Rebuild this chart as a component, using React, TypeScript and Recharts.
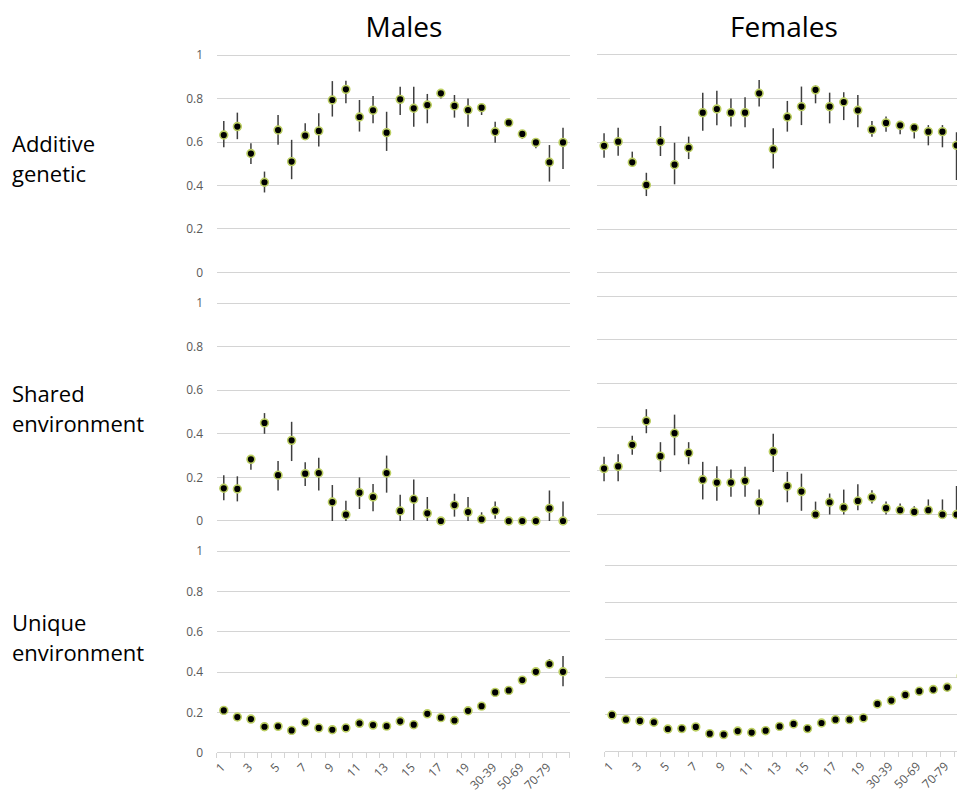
import React from 'react';
import { ComposedChart, Line, XAxis, YAxis, CartesianGrid, ErrorBar } from 'recharts';

const categories = [
  '1', '2', '3', '4', '5', '6', '7', '8', '9', '10', '11', '12', '13', '14', '15', '16', '17', '18', '19',
  '20-29', '30-39', '40-49', '50-69', '60-69', '70-79', '80+',
];
const yTicks = [0, 0.2, 0.4, 0.6, 0.8, 1];
const columnTitles = ['Males', 'Females'];
const rowTitles = [['Additive', 'genetic'], ['Shared', 'environment'], ['Unique', 'environment']];

// Males - additive genetic
const maleA = [0.632, 0.671, 0.547, 0.415, 0.655, 0.51, 0.629, 0.651, 0.793, 0.842, 0.715, 0.746, 0.643, 0.796, 0.755, 0.77, 0.824, 0.766, 0.747, 0.758, 0.647, 0.689, 0.637, 0.598, 0.507, 0.598];
const maleALo = [0.576, 0.613, 0.499, 0.368, 0.587, 0.429, 0.61, 0.579, 0.717, 0.778, 0.648, 0.686, 0.559, 0.724, 0.67, 0.686, 0.8, 0.712, 0.67, 0.724, 0.597, 0.675, 0.615, 0.571, 0.418, 0.476];
const maleAHi = [0.697, 0.735, 0.594, 0.464, 0.724, 0.61, 0.686, 0.732, 0.88, 0.882, 0.793, 0.812, 0.739, 0.854, 0.854, 0.821, 0.839, 0.816, 0.8, 0.77, 0.693, 0.7, 0.655, 0.61, 0.586, 0.666];

// Males - shared environment
const maleS = [0.15, 0.147, 0.283, 0.45, 0.21, 0.37, 0.217, 0.22, 0.087, 0.029, 0.13, 0.11, 0.22, 0.046, 0.1, 0.035, 0.0, 0.073, 0.041, 0.008, 0.047, 0.0, 0.0, 0.0, 0.058, 0.0];
const maleSLo = [0.095, 0.09, 0.235, 0.4, 0.14, 0.275, 0.16, 0.14, 0.0, 0.0, 0.055, 0.045, 0.13, 0.0, 0.005, 0.0, 0.0, 0.02, 0.0, 0.0, 0.01, 0.0, 0.0, 0.0, 0.0, 0.0];
const maleSHi = [0.21, 0.205, 0.297, 0.495, 0.275, 0.455, 0.27, 0.29, 0.165, 0.093, 0.2, 0.17, 0.3, 0.12, 0.19, 0.11, 0.015, 0.125, 0.11, 0.04, 0.09, 0.0, 0.0, 0.02, 0.14, 0.09];

// Males - unique environment
const maleU = [0.211, 0.178, 0.168, 0.13, 0.132, 0.112, 0.152, 0.124, 0.115, 0.124, 0.147, 0.138, 0.133, 0.157, 0.14, 0.194, 0.175, 0.161, 0.209, 0.232, 0.3, 0.31, 0.361, 0.402, 0.44, 0.402];
const maleULo = [0.2, 0.17, 0.16, 0.12, 0.12, 0.1, 0.14, 0.115, 0.105, 0.115, 0.135, 0.13, 0.125, 0.145, 0.13, 0.18, 0.165, 0.15, 0.2, 0.22, 0.29, 0.3, 0.35, 0.39, 0.42, 0.33];
const maleUHi = [0.22, 0.19, 0.18, 0.14, 0.14, 0.12, 0.16, 0.135, 0.125, 0.135, 0.155, 0.15, 0.145, 0.165, 0.15, 0.205, 0.185, 0.17, 0.22, 0.245, 0.31, 0.32, 0.37, 0.415, 0.465, 0.48];

// Females - additive genetic
const femaleA = [0.583, 0.602, 0.507, 0.403, 0.602, 0.496, 0.574, 0.735, 0.752, 0.735, 0.735, 0.824, 0.567, 0.715, 0.763, 0.84, 0.763, 0.784, 0.746, 0.657, 0.688, 0.677, 0.666, 0.648, 0.648, 0.585];
const femaleALo = [0.528, 0.537, 0.487, 0.352, 0.536, 0.406, 0.522, 0.652, 0.677, 0.671, 0.668, 0.763, 0.479, 0.648, 0.678, 0.778, 0.686, 0.701, 0.668, 0.625, 0.648, 0.636, 0.616, 0.585, 0.576, 0.426];
const femaleAHi = [0.64, 0.666, 0.556, 0.459, 0.674, 0.597, 0.625, 0.827, 0.836, 0.8, 0.806, 0.885, 0.663, 0.789, 0.855, 0.86, 0.827, 0.829, 0.816, 0.697, 0.717, 0.689, 0.678, 0.678, 0.678, 0.645];

// Females - shared environment
const femaleS = [0.21, 0.22, 0.319, 0.428, 0.267, 0.372, 0.282, 0.159, 0.146, 0.146, 0.154, 0.055, 0.288, 0.13, 0.105, 0.0, 0.056, 0.032, 0.062, 0.079, 0.029, 0.02, 0.012, 0.02, 0.0, 0.0];
const femaleSLo = [0.152, 0.152, 0.273, 0.372, 0.195, 0.271, 0.23, 0.069, 0.063, 0.081, 0.081, 0.0, 0.194, 0.056, 0.017, 0.0, 0.0, 0.0, 0.02, 0.05, 0.0, 0.0, 0.0, 0.0, 0.0, 0.0];
const femaleSHi = [0.264, 0.276, 0.36, 0.482, 0.331, 0.457, 0.331, 0.241, 0.221, 0.206, 0.218, 0.114, 0.37, 0.195, 0.187, 0.059, 0.096, 0.114, 0.139, 0.111, 0.059, 0.05, 0.038, 0.069, 0.069, 0.13];

// Females - unique environment
const femaleU = [0.198, 0.173, 0.166, 0.159, 0.123, 0.125, 0.134, 0.098, 0.093, 0.112, 0.104, 0.114, 0.137, 0.15, 0.125, 0.155, 0.173, 0.173, 0.182, 0.257, 0.275, 0.305, 0.325, 0.334, 0.346, 0.407];
const femaleULo = [0.19, 0.165, 0.158, 0.151, 0.115, 0.117, 0.126, 0.09, 0.085, 0.104, 0.096, 0.106, 0.129, 0.142, 0.117, 0.147, 0.165, 0.165, 0.174, 0.249, 0.267, 0.297, 0.317, 0.326, 0.338, 0.39];
const femaleUHi = [0.206, 0.181, 0.174, 0.167, 0.131, 0.133, 0.142, 0.106, 0.101, 0.12, 0.112, 0.122, 0.145, 0.158, 0.133, 0.163, 0.181, 0.181, 0.19, 0.265, 0.283, 0.313, 0.333, 0.342, 0.354, 0.42];

const FONT = "'Open Sans', 'Noto Sans', sans-serif";
const GRID = '#d4d4d4';
const TICK_TEXT = '#595959';
const Y_W = 67;

const renderDot = (p: any) => {
  if (p.cx == null || p.cy == null || p.value == null) return <g key={p.key} />;
  return <circle key={p.key} cx={p.cx} cy={p.cy} r={3.9} fill="#000" stroke="#bccf62" strokeWidth={1.6} />;
};

const EmptyTick = () => <g />;

const CatTick = (props: any) => {
  const { x, y, payload, band, count } = props;
  const idx = payload && payload.index != null ? payload.index : props.index;
  const half = band / 2;
  return (
    <g>
      <line x1={x - half} x2={x - half} y1={y} y2={y + 5} stroke={GRID} strokeWidth={1} shapeRendering="crispEdges" />
      {idx === count - 1 && <line x1={x + half} x2={x + half} y1={y} y2={y + 5} stroke={GRID} strokeWidth={1} shapeRendering="crispEdges" />}
      {idx % 2 === 0 && (
        <text
          transform={`translate(${x - 1},${y + 12}) rotate(-45)`}
          textAnchor="end"
          dominantBaseline="central"
          fontSize={12}
          fontFamily={FONT}
          fill={TICK_TEXT}
        >
          {payload.value}
        </text>
      )}
    </g>
  );
};

type PanelProps = {
  left: number; top: number; plotW: number; plotH: number;
  showY: boolean; showX: boolean;
  values: number[]; lo: number[]; hi: number[];
};

function Panel({ left, top, plotW, plotH, showY, showX, values, lo, hi }: PanelProps) {
  const data = categories.map((c, i) => ({
    cat: c,
    v: values[i],
    err: [values[i] - lo[i], hi[i] - values[i]],
  }));
  const band = plotW / categories.length;
  const yW = showY ? Y_W : 0;
  const mLeft = showY ? 0 : 24;
  const mRight = 12;
  const xH = showX ? 60 : 0;
  const mTop = 8;
  const mBottom = showX ? 0 : 8;
  const width = mLeft + yW + plotW + mRight;
  const height = mTop + plotH + xH + mBottom;
  return (
    <div style={{ position: 'absolute', left: left - yW - mLeft, top: top - mTop }}>
      <ComposedChart width={width} height={height} data={data} margin={{ top: mTop, right: mRight, bottom: mBottom, left: mLeft }}>
        <CartesianGrid vertical={false} stroke={GRID} strokeWidth={1} shapeRendering="crispEdges" />
        <XAxis
          dataKey="cat"
          hide={!showX}
          interval={0}
          height={xH}
          padding={{ left: band / 2, right: band / 2 }}
          axisLine={{ stroke: GRID, strokeWidth: 1, shapeRendering: 'crispEdges' }}
          tickLine={false}
          tickSize={0}
          tickMargin={0}
          tick={<CatTick band={band} count={categories.length} />}
        />
        <YAxis
          type="number"
          domain={[0, 1]}
          ticks={yTicks}
          interval={0}
          width={yW}
          axisLine={false}
          tickLine={false}
          tickSize={6}
          tickMargin={8}
          tickFormatter={(v: number) => String(v)}
          tick={showY ? { fontSize: 12, fill: TICK_TEXT, fontFamily: FONT } : EmptyTick}
        />
        <Line dataKey="v" stroke="none" isAnimationActive={false} dot={renderDot} activeDot={false}>
          <ErrorBar dataKey="err" width={0} stroke="#3f3f3f" strokeWidth={1.5} />
        </Line>
      </ComposedChart>
    </div>
  );
}

export default function App() {
  return (
    <div style={{ position: 'absolute', left: 0, top: 0, width: 957, height: 793, overflow: 'hidden', background: '#fff' }}>
      <svg width={957} height={793} style={{ position: 'absolute', left: 0, top: 0 }}>
        <text x={404} y={37} textAnchor="middle" fontSize={28} fontFamily={FONT} fill="#000">{columnTitles[0]}</text>
        <text x={784} y={37} textAnchor="middle" fontSize={28} fontFamily={FONT} fill="#000">{columnTitles[1]}</text>
        <text x={12} y={152} fontSize={22} fontFamily={FONT} fill="#000">{rowTitles[0][0]}</text>
        <text x={12} y={182} fontSize={22} fontFamily={FONT} fill="#000">{rowTitles[0][1]}</text>
        <text x={12} y={402} fontSize={22} fontFamily={FONT} fill="#000">{rowTitles[1][0]}</text>
        <text x={12} y={432} fontSize={22} fontFamily={FONT} fill="#000">{rowTitles[1][1]}</text>
        <text x={12} y={631} fontSize={22} fontFamily={FONT} fill="#000">{rowTitles[2][0]}</text>
        <text x={12} y={661} fontSize={22} fontFamily={FONT} fill="#000">{rowTitles[2][1]}</text>
      </svg>
      <Panel left={216.6} top={55} plotW={352.8} plotH={217.5} showY showX={false} values={maleA} lo={maleALo} hi={maleAHi} />
      <Panel left={216.6} top={303} plotW={352.8} plotH={218} showY showX={false} values={maleS} lo={maleSLo} hi={maleSHi} />
      <Panel left={216.6} top={551} plotW={352.8} plotH={202} showY showX values={maleU} lo={maleULo} hi={maleUHi} />
      <Panel left={596.7} top={55} plotW={366.6} plotH={217.7} showY={false} showX={false} values={femaleA} lo={femaleALo} hi={femaleAHi} />
      <Panel left={596.7} top={296} plotW={366.6} plotH={218.5} showY={false} showX={false} values={femaleS} lo={femaleSLo} hi={femaleSHi} />
      <Panel left={605.2} top={565} plotW={363.2} plotH={187} showY={false} showX values={femaleU} lo={femaleULo} hi={femaleUHi} />
    </div>
  );
}
